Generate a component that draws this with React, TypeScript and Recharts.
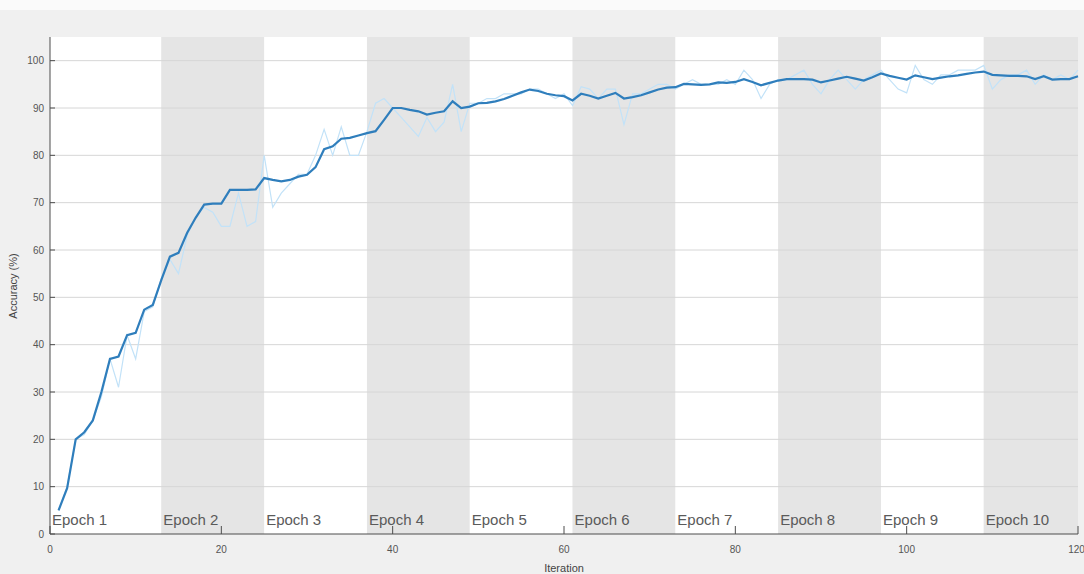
import React from 'react';
import {
  ComposedChart,
  Line,
  XAxis,
  YAxis,
  ReferenceArea,
  ReferenceLine,
} from 'recharts';

// accuracy, one value per iteration (1..120)
const smoothedAccuracy = [
  5, 9.7, 20, 21.5, 24, 30, 37, 37.5, 42, 42.5,
  47.4, 48.4, 53.7, 58.6, 59.4, 63.6, 66.8, 69.6, 69.8, 69.8,
  72.7, 72.7, 72.7, 72.8, 75.2, 74.8, 74.5, 74.8, 75.5, 75.9,
  77.5, 81.3, 81.9, 83.5, 83.7, 84.2, 84.7, 85.1, 87.5, 90,
  90, 89.6, 89.3, 88.6, 89, 89.3, 91.4, 90, 90.3, 91,
  91.1, 91.4, 91.9, 92.6, 93.3, 93.9, 93.6, 93, 92.7, 92.5,
  91.6, 93, 92.6, 92, 92.6, 93.2, 92, 92.3, 92.7, 93.3,
  93.9, 94.3, 94.4, 95.1, 95, 94.9, 95, 95.4, 95.3, 95.5,
  96.1, 95.5, 94.8, 95.3, 95.8, 96.1, 96.1, 96.1, 96, 95.4,
  95.8, 96.2, 96.6, 96.2, 95.8, 96.5, 97.3, 96.8, 96.4, 96,
  96.9, 96.5, 96.1, 96.4, 96.7, 96.9, 97.2, 97.5, 97.7, 97,
  96.9, 96.8, 96.8, 96.7, 96.1, 96.7, 96, 96.1, 96.1, 96.7,
];

const rawAccuracy = [
  5, 10, 20, 21, 24, 29, 37, 31, 42, 37,
  47, 48, 54, 58, 55, 63, 67, 69, 68, 65,
  65, 72, 65, 66, 80, 69, 72, 74, 76, 76,
  80, 85.5, 80, 86, 80, 80, 85, 91, 92, 90,
  88, 86, 84, 88, 85, 87, 95, 85, 91, 91,
  92, 92, 93, 93, 93, 94, 94, 93, 92, 93,
  90.5, 94.5, 94, 92, 94, 94, 86.5, 93, 93, 94,
  95, 95, 94, 95, 96, 95, 95, 95, 96, 95,
  98, 96, 92, 95, 96, 96, 97, 98, 95, 93,
  96, 98, 96, 94, 96, 97, 98, 96, 94, 93.2,
  99, 96, 95, 97, 97, 98, 98, 98, 99, 94,
  96, 97, 97, 98, 95, 97, 96, 97, 96, 98,
];

const epochLabels = ['Epoch 1', 'Epoch 2', 'Epoch 3', 'Epoch 4', 'Epoch 5', 'Epoch 6', 'Epoch 7', 'Epoch 8', 'Epoch 9', 'Epoch 10'];
const epochStarts = [0, 13, 25, 37, 49, 61, 73, 85, 97, 109];
const epochEnds = [13, 25, 37, 49, 61, 73, 85, 97, 109, 120];

const yTicks = [0, 10, 20, 30, 40, 50, 60, 70, 80, 90, 100];
const xTicks = [0, 20, 40, 60, 80, 100, 120];

const data = smoothedAccuracy.map((v, i) => ({
  iteration: i + 1,
  smoothed: v,
  raw: rawAccuracy[i],
}));

const FONT = '"Liberation Sans", Arial, sans-serif';

const EpochLabel = (props: any) => {
  const vb = props.viewBox || {};
  return (
    <text
      x={vb.x + 2}
      y={vb.y + vb.height - 9}
      fill="#5a5a5a"
      fontSize={15}
      fontFamily={FONT}
    >
      {props.text}
    </text>
  );
};

const YLabel = () => (
  <text
    x={17}
    y={286}
    transform="rotate(-90 17 286)"
    textAnchor="middle"
    fill="#444"
    fontSize={11}
    fontFamily={FONT}
  >
    Accuracy (%)
  </text>
);

const XLabel = () => (
  <text x={564} y={572} textAnchor="middle" fill="#444" fontSize={11} fontFamily={FONT}>
    Iteration
  </text>
);

export default function App() {
  return (
    <div
      style={{
        position: 'absolute',
        left: 0,
        top: 0,
        width: 1084,
        height: 574,
        background: '#f0f0f0',
        overflow: 'hidden',
      }}
    >
      <div style={{ position: 'absolute', left: 0, top: 0, width: 1084, height: 10, background: '#fafafa' }} />
      <ComposedChart
        width={1084}
        height={574}
        data={data}
        margin={{ top: 37, right: 6, left: 0, bottom: 10 }}
        style={{ position: 'absolute', left: 0, top: 0 }}
      >
        {epochLabels.map((label, i) => (
          <ReferenceArea
            key={label}
            x1={epochStarts[i]}
            x2={epochEnds[i]}
            y1={0}
            y2={105}
            fill={i % 2 === 0 ? '#ffffff' : '#e5e5e5'}
            fillOpacity={1}
            stroke="none"
            ifOverflow="hidden"
            label={<EpochLabel text={label} />}
          />
        ))}
        {yTicks.slice(1).map((t) => (
          <ReferenceLine key={t} y={t} stroke="#d6d6d6" strokeWidth={1} />
        ))}
        <XAxis
          dataKey="iteration"
          type="number"
          domain={[0, 120]}
          ticks={xTicks}
          height={30}
          axisLine={{ stroke: '#4d4d4d' }}
          tickLine={{ stroke: '#4d4d4d' }}
          tickSize={-8}
          tickMargin={20}
          tick={{ fill: '#555', fontSize: 10, fontFamily: FONT }}
          label={<XLabel />}
        />
        <YAxis
          type="number"
          domain={[0, 105]}
          ticks={yTicks}
          width={50}
          axisLine={{ stroke: '#4d4d4d' }}
          tickLine={{ stroke: '#4d4d4d' }}
          tickSize={-5}
          tickMargin={11}
          tick={{ fill: '#555', fontSize: 10, fontFamily: FONT }}
          label={<YLabel />}
        />
        <Line
          type="linear"
          dataKey="raw"
          stroke="#c2e2f8"
          strokeWidth={1.2}
          dot={false}
          isAnimationActive={false}
        />
        <Line
          type="linear"
          dataKey="smoothed"
          stroke="#2f7ebc"
          strokeWidth={2.2}
          dot={false}
          isAnimationActive={false}
        />
      </ComposedChart>
    </div>
  );
}
